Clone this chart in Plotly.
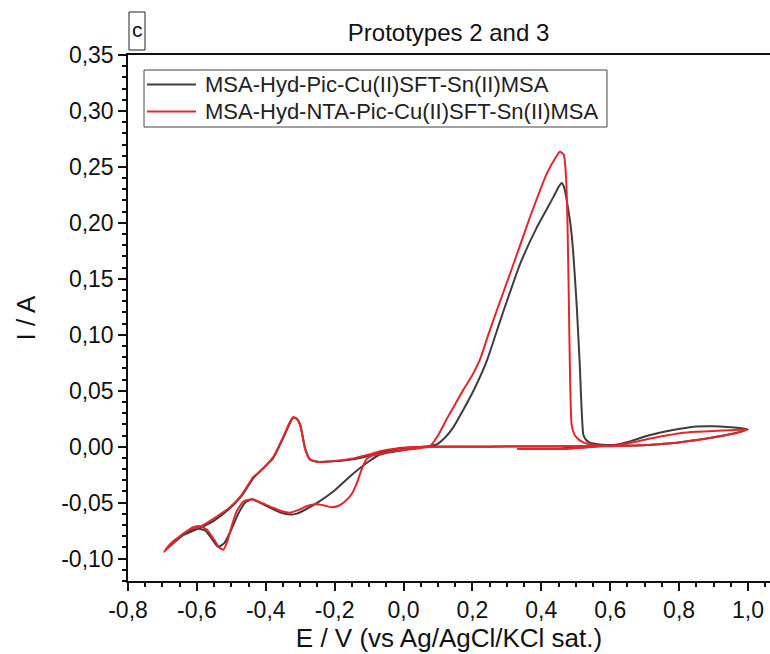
import plotly.graph_objects as go

# Cyclic voltammograms: potential (V vs Ag/AgCl/KCl sat.) and current (A), in sweep order
e_pic = [0.33, 0.45, 0.55, 0.61, 0.66, 0.706, 0.76, 0.803, 0.85, 0.90, 0.94, 0.975, 1.0,
         0.97, 0.94, 0.90, 0.85, 0.80, 0.75, 0.706, 0.65, 0.60, 0.50, 0.40, 0.30, 0.20, 0.10, 0.077,
         0.03, 0.0, -0.03, -0.068, -0.10, -0.15, -0.204, -0.25, -0.29, -0.31, -0.33, -0.355, -0.378,
         -0.41, -0.44, -0.46, -0.48, -0.50, -0.52, -0.538, -0.555, -0.575, -0.60, -0.63, -0.66, -0.69,
         -0.67, -0.64, -0.61, -0.591, -0.55, -0.504, -0.47, -0.455, -0.436, -0.42, -0.40, -0.378,
         -0.349, -0.33, -0.32, -0.31, -0.30, -0.286, -0.272, -0.25, -0.223, -0.18, -0.146, -0.10,
         -0.068, -0.02, 0.03, 0.07, 0.096, 0.12, 0.144, 0.17, 0.203, 0.242, 0.28, 0.30, 0.338, 0.387,
         0.435, 0.45, 0.459, 0.466, 0.474, 0.488, 0.503, 0.512, 0.522, 0.53, 0.541, 0.57, 0.609, 0.65]
i_pic = [-0.002, -0.002, 0.0, 0.0015, 0.005, 0.0096, 0.0135, 0.016, 0.018, 0.0182, 0.0177, 0.0168, 0.0155,
         0.0128, 0.0108, 0.0085, 0.006, 0.0038, 0.0025, 0.0015, 0.0008, 0.0005, 0.0003, 0.0002, 0.0001, 0.0, 0.0, 0.0,
         -0.0015, -0.003, -0.0045, -0.007, -0.013, -0.025, -0.040, -0.050, -0.057, -0.0598, -0.0606, -0.059, -0.056,
         -0.051, -0.047, -0.050, -0.060, -0.074, -0.086, -0.0896, -0.083, -0.075, -0.073, -0.077, -0.084, -0.092,
         -0.085, -0.079, -0.075, -0.0726, -0.066, -0.055, -0.044, -0.037, -0.028, -0.023, -0.017, -0.010,
         0.008, 0.021, 0.026, 0.025, 0.020, -0.001, -0.0113, -0.0135, -0.0134, -0.0125, -0.0113, -0.008,
         -0.005, -0.002, -0.0005, 0.0005, 0.002, 0.008, 0.017, 0.031, 0.050, 0.077, 0.112, 0.130, 0.163, 0.196,
         0.223, 0.232, 0.2357, 0.232, 0.220, 0.190, 0.125, 0.071, 0.011, 0.006, 0.0036, 0.002, 0.0015, 0.002]

e_nta = [0.33, 0.47, 0.55, 0.609, 0.66, 0.706, 0.75, 0.803, 0.85, 0.90, 0.95, 1.0,
         0.97, 0.94, 0.90, 0.85, 0.80, 0.75, 0.70, 0.65, 0.60, 0.50, 0.40, 0.30, 0.20, 0.10, 0.077,
         0.03, 0.0, -0.03, -0.06, -0.09, -0.107, -0.12, -0.135, -0.15, -0.17, -0.19, -0.21, -0.23, -0.255,
         -0.28, -0.305, -0.33, -0.355, -0.378, -0.41, -0.44, -0.465, -0.485, -0.50, -0.512, -0.523, -0.535,
         -0.55, -0.571, -0.59, -0.61, -0.64, -0.67, -0.695,
         -0.68, -0.65, -0.62, -0.591, -0.55, -0.504, -0.47, -0.455, -0.436, -0.42, -0.40, -0.378,
         -0.349, -0.33, -0.32, -0.31, -0.30, -0.286, -0.272, -0.25, -0.223, -0.18, -0.146, -0.10,
         -0.068, -0.02, 0.03, 0.077, 0.10, 0.125, 0.15, 0.174, 0.20, 0.222, 0.245, 0.27, 0.319, 0.367, 0.416,
         0.445, 0.454, 0.465, 0.472, 0.476, 0.479, 0.483, 0.488, 0.496, 0.503, 0.52, 0.541, 0.609, 0.65]
i_nta = [-0.002, -0.002, 0.0, 0.001, 0.0035, 0.0066, 0.0093, 0.012, 0.0133, 0.014, 0.0148, 0.0155,
         0.0125, 0.0105, 0.0082, 0.0058, 0.0038, 0.0024, 0.0014, 0.0008, 0.0006, 0.0005, 0.0004, 0.0003, 0.0002, 0.0001, 0.0,
         -0.002, -0.003, -0.004, -0.006, -0.008, -0.011, -0.019, -0.032, -0.042, -0.049, -0.053, -0.054, -0.0525, -0.0515,
         -0.053, -0.0565, -0.059, -0.0575, -0.0547, -0.0505, -0.047, -0.049, -0.058, -0.072, -0.085, -0.092, -0.090,
         -0.083, -0.074, -0.071, -0.072, -0.078, -0.086, -0.094,
         -0.088, -0.080, -0.074, -0.0715, -0.064, -0.054, -0.043, -0.036, -0.027, -0.023, -0.017, -0.009,
         0.009, 0.022, 0.0265, 0.025, 0.019, -0.002, -0.0115, -0.0135, -0.0133, -0.012, -0.0105, -0.007,
         -0.004, -0.0015, -0.0003, 0.0006, 0.010, 0.0245, 0.038, 0.051, 0.064, 0.078, 0.099, 0.121, 0.163, 0.205, 0.244,
         0.260, 0.2635, 0.261, 0.240, 0.200, 0.150, 0.071, 0.020, 0.011, 0.008, 0.004, 0.002, 0.0006, 0.0008]

series_names = ["MSA-Hyd-Pic-Cu(II)SFT-Sn(II)MSA", "MSA-Hyd-NTA-Pic-Cu(II)SFT-Sn(II)MSA"]
series_colors = ["#3d3d3d", "#e3262b"]

x_ticks = [-0.8, -0.6, -0.4, -0.2, 0.0, 0.2, 0.4, 0.6, 0.8, 1.0]
x_tick_labels = ["-0,8", "-0,6", "-0,4", "-0,2", "0,0", "0,2", "0,4", "0,6", "0,8", "1,0"]
y_ticks = [-0.10, -0.05, 0.0, 0.05, 0.10, 0.15, 0.20, 0.25, 0.30, 0.35]
y_tick_labels = ["-0,10", "-0,05", "0,00", "0,05", "0,10", "0,15", "0,20", "0,25", "0,30", "0,35"]

FONT = "Liberation Sans, Arial, sans-serif"
INK = "#111"

# plot-area geometry in pixels (used to place the framed legend and panel letter)
W, H = 770, 654
ML, MR, MT, MB = 128, 0, 55, 73
PW, PH = W - ML - MR, H - MT - MB


def px_x(x):
    return (x - ML) / PW


def px_y(y):
    return (H - MB - y) / PH


fig = go.Figure()
for xs, ys, name, color in [(e_pic, i_pic, series_names[0], series_colors[0]),
                            (e_nta, i_nta, series_names[1], series_colors[1])]:
    fig.add_trace(go.Scatter(x=xs, y=ys, mode="lines", name=name, showlegend=False,
                             line=dict(color=color, width=2, shape="spline", smoothing=0.5)))

axis_common = dict(
    showline=True, linecolor=INK, linewidth=1.5,
    ticks="outside", tickcolor=INK, tickwidth=1.5, ticklen=8,
    showgrid=False, zeroline=False,
    tickfont=dict(family=FONT, size=23, color=INK),
)

fig.update_xaxes(
    range=[-0.8, 1.064], tickvals=x_ticks, ticktext=x_tick_labels, mirror=True,
    minor=dict(dtick=0.05, tick0=-0.8, ticks="outside", ticklen=4, tickcolor=INK, tickwidth=1.5),
    title=dict(text="E / V (vs Ag/AgCl/KCl sat.)", font=dict(family=FONT, size=26, color=INK), standoff=4),
    **axis_common,
)
fig.update_yaxes(
    range=[-0.12, 0.35], tickvals=y_ticks, ticktext=y_tick_labels,
    minor=dict(dtick=0.01, tick0=0, ticks="outside", ticklen=4, tickcolor=INK, tickwidth=1.5),
    title=dict(text="I / A", font=dict(family=FONT, size=26, color=INK), standoff=18),
    **axis_common,
)

shapes = [
    # panel letter frame
    dict(type="rect", xref="paper", yref="paper", x0=px_x(129), x1=px_x(145), y0=px_y(50), y1=px_y(12),
         line=dict(color="#222", width=1), fillcolor="white"),
    # legend frame
    dict(type="rect", xref="paper", yref="paper", x0=px_x(144), x1=px_x(607), y0=px_y(127), y1=px_y(70),
         line=dict(color="#444", width=1), fillcolor="white", layer="above"),
]
annotations = [
    dict(text="c", xref="paper", yref="paper", x=px_x(137), y=px_y(30), xanchor="center", yanchor="middle",
         showarrow=False, font=dict(family=FONT, size=21, color=INK)),
]
legend_rows = [84.5, 111.5]
for row_y, name, color in zip(legend_rows, series_names, series_colors):
    shapes.append(dict(type="line", xref="paper", yref="paper", x0=px_x(147), x1=px_x(196),
                       y0=px_y(row_y), y1=px_y(row_y), line=dict(color=color, width=2), layer="above"))
    annotations.append(dict(text=name, xref="paper", yref="paper", x=px_x(203), y=px_y(row_y),
                            xanchor="left", yanchor="middle", showarrow=False,
                            font=dict(family=FONT, size=22, color="#222")))

fig.update_layout(
    width=W, height=H,
    margin=dict(l=ML, r=MR, t=MT, b=MB),
    paper_bgcolor="white", plot_bgcolor="white",
    title=dict(text="Prototypes 2 and 3", x=0.5825, xanchor="center", y=0.95, yanchor="middle",
               font=dict(family=FONT, size=24, color=INK)),
    showlegend=False,
    shapes=shapes,
    annotations=annotations,
)

fig.write_html("out.html")
